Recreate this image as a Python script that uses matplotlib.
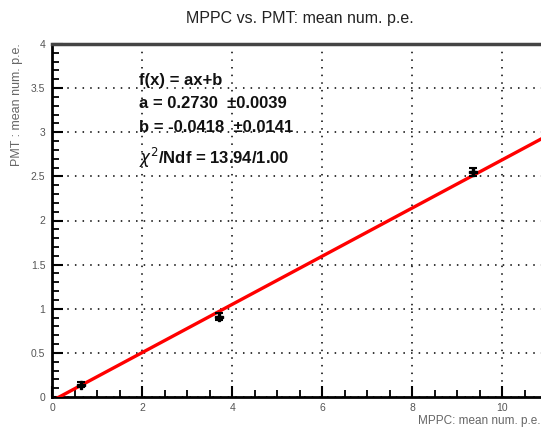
import numpy as np
import matplotlib
matplotlib.use("Agg")
import matplotlib.pyplot as plt
from matplotlib.ticker import MultipleLocator

# measured points (MPPC vs PMT mean number of p.e.)
mppc = [0.63, 3.70, 9.35]
pmt = [0.14, 0.91, 2.55]
pmt_err = [0.03, 0.04, 0.05]

# fit result f(x) = a*x + b
fit_a = 0.2730
fit_a_err = 0.0039
fit_b = -0.0418
fit_b_err = 0.0141
chi2 = 13.94
ndf = 1.00

plt.rcParams["font.family"] = ["Liberation Sans", "DejaVu Sans"]

fig = plt.figure(figsize=(5.41, 4.29), dpi=100)
ax = fig.add_axes([52.3 / 541, 1 - 397 / 429, 495 / 541, 353 / 429])

ax.set_xlim(0, 11)
ax.set_ylim(0, 4)

# fit line
xs = np.linspace(0, 11, 200)
ax.plot(xs, fit_a * xs + fit_b, color="red", linewidth=2.4, zorder=3)

# data
ax.errorbar(mppc, pmt, yerr=pmt_err, fmt="P", color="black", ms=6,
            capsize=3, elinewidth=1.3, capthick=1.5, zorder=4)

# axes styling (ROOT-like)
ax.xaxis.set_major_locator(MultipleLocator(2))
ax.xaxis.set_minor_locator(MultipleLocator(0.5))
ax.yaxis.set_major_locator(MultipleLocator(0.5))
ax.yaxis.set_minor_locator(MultipleLocator(0.1))
ax.tick_params(which="both", direction="in", top=False, right=False,
               colors="black", labelcolor="#555555", labelsize=7.5)
ax.tick_params(which="major", length=8, width=1.5)
ax.tick_params(which="minor", length=5, width=1.3)
ax.tick_params(axis="x", pad=4)
ax.tick_params(axis="y", pad=5)
ax.xaxis.set_major_formatter(plt.FuncFormatter(lambda v, p: f"{v:g}"))
ax.yaxis.set_major_formatter(plt.FuncFormatter(lambda v, p: f"{v:g}"))

ax.grid(True, which="major", color="black", linestyle=(0, (1, 4)), linewidth=1.1)

for side in ["left", "bottom"]:
    ax.spines[side].set_linewidth(2)
    ax.spines[side].set_color("black")
ax.spines["top"].set_linewidth(2.5)
ax.spines["top"].set_color("#444444")
ax.spines["right"].set_visible(False)

# fit parameter box
stats = [
    "f(x) = ax+b",
    f"a = {fit_a:.4f}  \u00b1{fit_a_err:.4f}",
    f"b = {fit_b:.4f}  \u00b1{fit_b_err:.4f}",
    f"$\\chi^2$/Ndf = {chi2:.2f}/{ndf:.2f}",
]
ys = [80, 103, 127, 158]
for s, yp in zip(stats, ys):
    fig.text(139 / 541, 1 - yp / 429, s, fontsize=12, fontweight="bold",
             color="#111111", va="center", ha="left")

fig.text(300 / 541, 1 - 18 / 429, "MPPC vs. PMT: mean num. p.e.",
         fontsize=11.5, ha="center", va="center", color="#222222")
fig.text(17 / 541, 1 - 43 / 429, "PMT : mean num. p.e.", rotation=90,
         fontsize=9, ha="center", va="top", color="#666666")
fig.text(540 / 541, 1 - 421 / 429, "MPPC: mean num. p.e.",
         fontsize=8.5, ha="right", va="center", color="#666666")

fig.savefig("out.png", dpi=100)
